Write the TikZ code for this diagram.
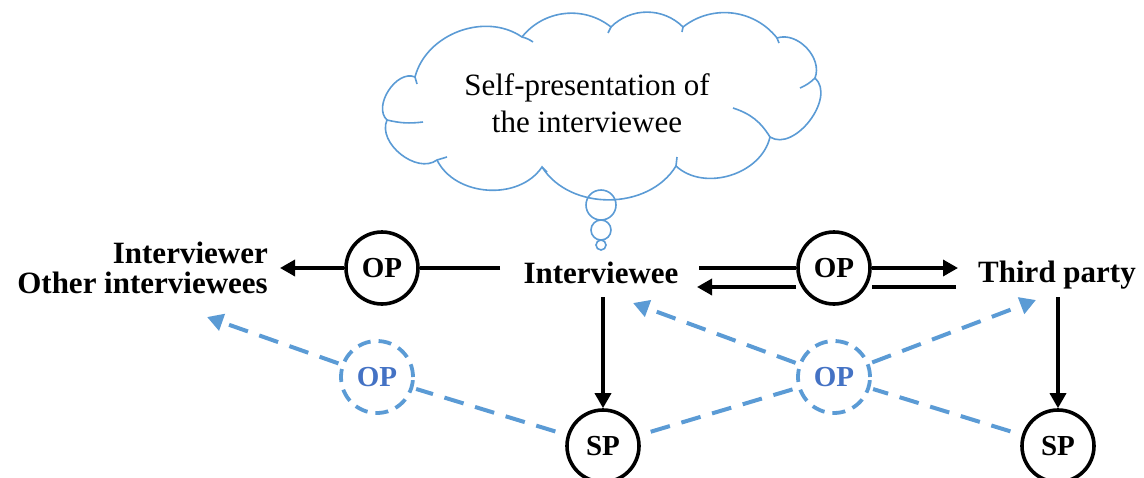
\documentclass[tikz,border=0pt]{standalone}
\usepackage{fontspec}
\setmainfont{Liberation Serif}
\usetikzlibrary{arrows.meta}
\definecolor{dblue}{RGB}{91,155,213}
\definecolor{tblue}{RGB}{68,114,196}
\begin{document}
\begin{tikzpicture}[x=1pt,y=-1pt,
  lbl/.style={font=\fontsize{31}{30}\selectfont\bfseries, inner sep=0pt},
  circ/.style={circle, draw, line width=3.6pt, minimum size=72pt, inner sep=0pt,
    font=\fontsize{29}{30}\selectfont\bfseries},
  dcirc/.style={circ, draw=dblue, text=tblue, line width=3.8pt, dash pattern=on 13pt off 8pt},
  arr/.style={line width=3.4pt, -{Triangle[length=15pt,width=16pt]}},
  plain/.style={line width=3.4pt},
  darr/.style={draw=dblue, line width=4pt, dash pattern=on 20pt off 12pt,
    -{Triangle[length=16pt,width=17pt]}},
  dline/.style={draw=dblue, line width=4pt, dash pattern=on 20pt off 12pt},
  cloudline/.style={draw=dblue, line width=1.6pt},
]
\useasboundingbox (0,0) rectangle (1144,477);

% cloud
\coordinate (cA) at (415,77);
\coordinate (cB) at (522,37);
\coordinate (cC) at (611,27);
\coordinate (cD) at (683,27);
\coordinate (cE) at (777,38);
\coordinate (cF) at (815,78);
\coordinate (cG) at (770,137);
\coordinate (cH) at (676,166);
\coordinate (cI) at (542,167);
\coordinate (cJ) at (437,160);
\coordinate (cK) at (387,120);
\draw[cloudline] (cA) to[bend left=55] (cB) to[bend left=45] (cC)
  to[bend left=45] (cD) to[bend left=45] (cE) to[bend left=65] (cF)
  to[bend left=85] (cG) to[bend left=60] (cH) to[bend left=58] (cI)
  to[bend left=60] (cJ) to[bend left=75] (cK) to[bend left=80] (cA);
% inner stubs of the cloud
\coordinate (sA) at (417,84);
\coordinate (sB) at (533,42);
\coordinate (sC) at (608,33);
\coordinate (sD) at (682,32);
\coordinate (sE) at (779,43);
\coordinate (sF) at (800,88);
\coordinate (sG) at (733,108);
\coordinate (sH) at (677,157);
\coordinate (sI) at (547,172);
\coordinate (sJ) at (447,157);
\coordinate (sK) at (423,122);
\draw[cloudline] (cA) -- (sA);
\draw[cloudline] (cB) to[bend left=10] (sB);
\draw[cloudline] (cC) -- (sC);
\draw[cloudline] (cD) -- (sD);
\draw[cloudline] (cE) -- (sE);
\draw[cloudline] (cF) to[bend left=10] (sF);
\draw[cloudline] (cG) to[bend right=20] (sG);
\draw[cloudline] (cH) -- (sH);
\draw[cloudline] (cI) -- (sI);
\draw[cloudline] (cJ) -- (sJ);
\draw[cloudline] (cK) to[bend right=10] (sK);
\node[font=\fontsize{31}{37}\selectfont, align=center, inner sep=0pt] (cloudtext) at (587,103)
  {Self-presentation of\\the interviewee};
% thought bubbles
\node[circle, cloudline, minimum size=30pt, inner sep=0pt] (b1) at (601,205) {};
\node[circle, cloudline, minimum size=20pt, inner sep=0pt] (b2) at (601,230) {};
\node[circle, cloudline, minimum size=10pt, inner sep=0pt] (b3) at (601,245) {};

% labels
\node[lbl, anchor=base] (iee) at (601,283) {Interviewee};
\node[lbl, anchor=base] (third) at (1057,282) {Third party};
\node[lbl, anchor=east, align=right] (others) at (268,268) {Interviewer\\Other interviewees};

% circles
\node[circ] (op1) at (382,268) {OP};
\node[circ] (op2) at (834,268) {OP};
\node[circ] (sp1) at (603,446) {SP};
\node[circ] (sp2) at (1058,446) {SP};
\node[dcirc] (opd1) at (377,377) {OP};
\node[dcirc] (opd2) at (834,377) {OP};

% endpoints
\coordinate (ieeL) at (500,268);
\coordinate (othersR) at (280,268);
\coordinate (topL) at (699,268);
\coordinate (topR) at (958,268);
\coordinate (botR) at (956,287);
\coordinate (botL) at (697,287);
\coordinate (ieeB) at (603,297);
\coordinate (thirdB) at (1058,297);
\coordinate (tipOthers) at (207,317);
\coordinate (tipIee) at (633,303);
\coordinate (tipThird) at (1036,300);

% black connectors
\draw[plain] (ieeL) -- (op1);
\draw[arr] (op1) -- (othersR);
\draw[plain] (topL) -- (op2.west |- topL);
\draw[arr] (op2.east |- topL) -- (topR);
\draw[plain] (botR) -- (op2.east |- botR);
\draw[arr] (op2.west |- botR) -- (botL);
\draw[arr] (ieeB) -- (sp1);
\draw[arr] (thirdB) -- (sp2);

% blue dashed connectors
\draw[dline, shorten <=12pt, shorten >=3pt] (sp1) -- (opd1);
\draw[darr, shorten <=3pt] (opd1) -- (tipOthers);
\draw[dline, shorten <=12pt, shorten >=3pt] (sp1) -- (opd2);
\draw[darr, shorten <=3pt] (opd2) -- (tipThird);
\draw[dline, shorten <=12pt, shorten >=3pt] (sp2) -- (opd2);
\draw[darr, shorten <=3pt] (opd2) -- (tipIee);
\end{tikzpicture}
\end{document}
